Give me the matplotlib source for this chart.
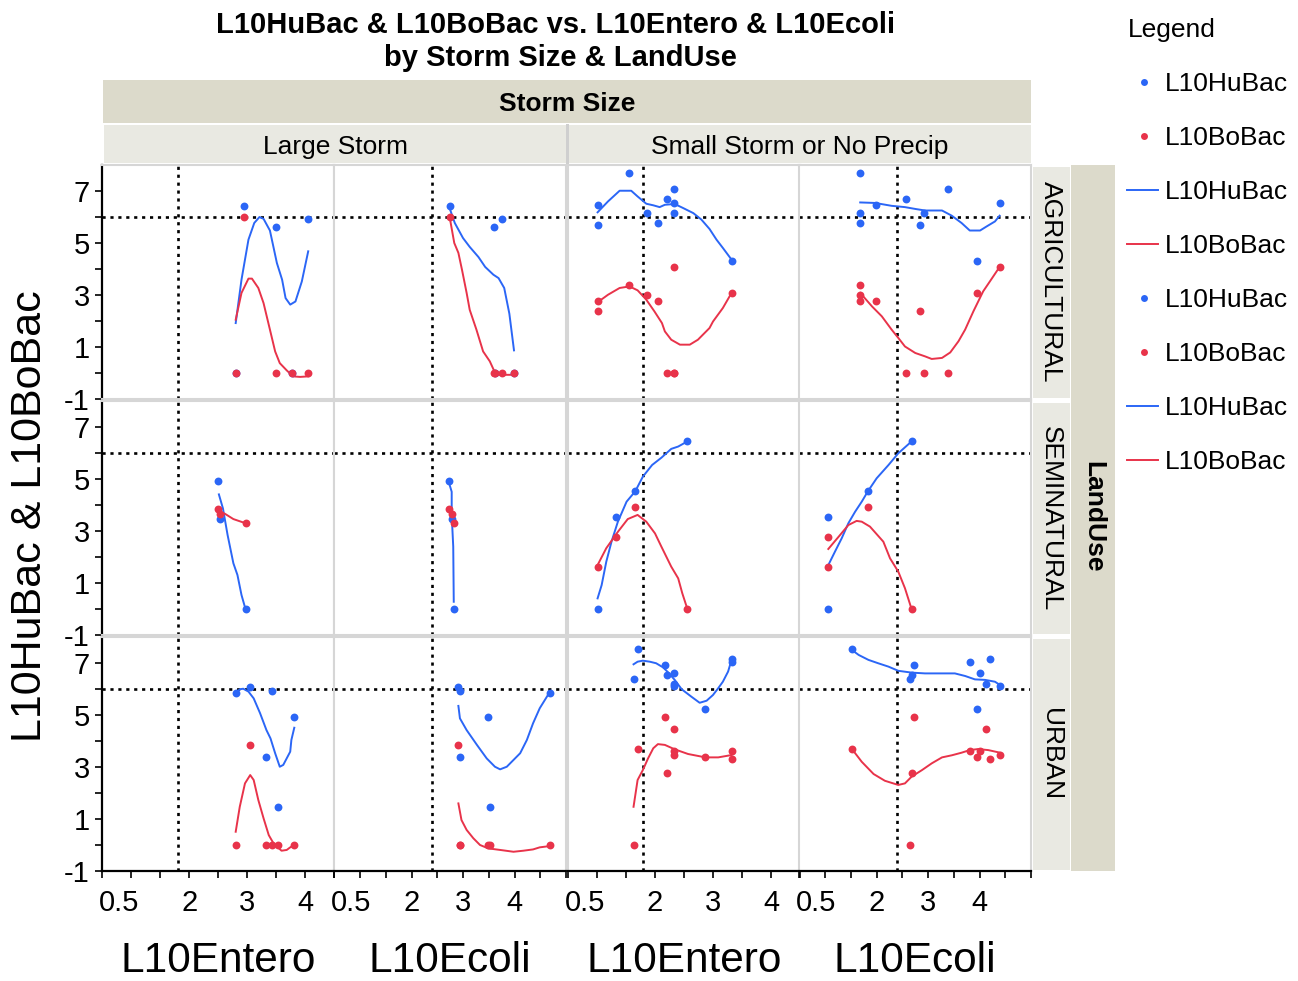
import matplotlib
matplotlib.use("Agg")
import numpy as np
import matplotlib.pyplot as plt
from matplotlib.patches import Rectangle
from matplotlib.lines import Line2D
from matplotlib.transforms import blended_transform_factory, ScaledTranslation

plt.rcParams['font.family'] = ['Liberation Sans', 'DejaVu Sans']

BLUE = '#2b66f6'
RED = '#e8334a'
BAND_DARK = '#dcdacb'
BAND_LIGHT = '#e9e9e2'
DIVIDER = '#d6d6d6'

# ---- sample values per storm size / land use ----
# Large Storm, AGRICULTURAL
lg_agr_entero = [2.80, 2.94, 3.49, 3.77, 4.05]
lg_agr_ecoli = [3.63, 2.75, 3.60, 3.99, 3.76]
lg_agr_hubac = [0.00, 6.41, 5.62, 0.00, 5.92]
lg_agr_bobac = [0.00, 6.00, 0.00, 0.00, 0.00]

# Large Storm, SEMINATURAL
lg_sem_entero = [2.49, 2.53, 2.97]
lg_sem_ecoli = [2.73, 2.78, 2.82]
lg_sem_hubac = [4.93, 3.46, 0.00]
lg_sem_bobac = [3.86, 3.65, 3.31]

# Large Storm, URBAN
lg_urb_entero = [2.80, 3.05, 3.42, 3.81, 3.32, 3.53]
lg_urb_ecoli = [4.69, 2.90, 2.94, 3.48, 2.94, 3.52]
lg_urb_hubac = [5.83, 6.09, 5.92, 4.91, 3.38, 1.47]
lg_urb_bobac = [0.00, 3.85, 0.00, 0.00, 0.00, 0.00]

# Small Storm or No Precip, AGRICULTURAL
sm_agr_entero = [1.01, 1.01, 1.56, 1.87, 2.05, 2.21, 2.32, 2.32, 2.32, 3.32]
sm_agr_ecoli = [1.98, 2.84, 1.68, 1.68, 1.68, 2.57, 3.39, 4.39, 2.92, 3.96]
sm_agr_hubac = [6.47, 5.69, 7.69, 6.15, 5.77, 6.69, 7.08, 6.54, 6.15, 4.32]
sm_agr_bobac = [2.78, 2.38, 3.38, 3.01, 2.78, 0.00, 0.00, 4.09, 0.00, 3.09]

# Small Storm or No Precip, SEMINATURAL
sm_sem_entero = [1.01, 1.32, 1.66, 2.56]
sm_sem_ecoli = [1.06, 1.06, 1.83, 2.68]
sm_sem_hubac = [0.00, 3.54, 4.54, 6.46]
sm_sem_bobac = [1.62, 2.77, 3.93, 0.00]

# Small Storm or No Precip, URBAN
sm_urb_entero = [1.70, 1.63, 2.18, 2.21, 2.32, 2.32, 2.32, 2.87, 3.32, 3.32]
sm_urb_ecoli = [1.52, 2.65, 2.73, 2.68, 4.01, 4.12, 4.40, 3.96, 4.20, 3.81]
sm_urb_hubac = [7.54, 6.37, 6.92, 6.54, 6.60, 6.19, 6.12, 5.23, 7.14, 7.05]
sm_urb_bobac = [3.69, 0.00, 4.91, 2.76, 3.60, 4.46, 3.46, 3.37, 3.30, 3.60]

# ---- smoother traces (x, y) ----
lg_agr_entero_hu_fit = [(2.80, 1.92), (2.90, 3.59), (3.02, 5.13), (3.12, 5.77), (3.21, 6.00), (3.28, 5.93),
                        (3.39, 5.48), (3.51, 4.23), (3.60, 3.59), (3.66, 2.88), (3.74, 2.63), (3.83, 2.75),
                        (3.94, 3.52), (4.05, 4.68)]
lg_agr_entero_bo_fit = [(2.80, 2.05), (2.90, 3.08), (3.02, 3.63), (3.08, 3.63), (3.19, 3.27), (3.28, 2.69),
                        (3.39, 1.67), (3.48, 0.83), (3.56, 0.38), (3.68, 0.10), (3.79, -0.13), (3.91, -0.15),
                        (4.05, -0.13)]
lg_agr_ecoli_hu_fit = [(2.75, 6.28), (2.84, 5.77), (3.00, 5.19), (3.13, 4.85), (3.30, 4.46), (3.43, 4.08),
                       (3.59, 3.78), (3.69, 3.65), (3.80, 3.27), (3.90, 2.28), (3.99, 0.87)]
lg_agr_ecoli_bo_fit = [(2.74, 6.00), (2.83, 5.00), (2.91, 4.62), (2.98, 3.97), (3.07, 3.08), (3.13, 2.43),
                       (3.26, 1.67), (3.39, 0.83), (3.52, 0.45), (3.61, 0.06), (3.71, -0.07), (3.99, -0.07)]

lg_sem_entero_hu_fit = [(2.51, 4.42), (2.58, 3.88), (2.66, 2.86), (2.76, 1.77), (2.83, 1.32), (2.90, 0.55),
                        (2.97, 0.00)]
lg_sem_entero_bo_fit = [(2.49, 3.75), (2.61, 3.68), (2.76, 3.47), (2.97, 3.31)]
lg_sem_ecoli_hu_fit = [(2.73, 4.85), (2.78, 4.52), (2.78, 3.63), (2.81, 2.41), (2.82, 0.29)]
lg_sem_ecoli_bo_fit = [(2.73, 3.86), (2.78, 3.63), (2.82, 3.31)]

lg_urb_entero_hu_fit = [(2.80, 5.83), (2.87, 5.99), (2.93, 6.01), (3.02, 5.90), (3.11, 5.64), (3.22, 5.07),
                        (3.33, 4.42), (3.40, 4.10), (3.48, 3.53), (3.56, 3.01), (3.62, 3.08), (3.74, 3.59),
                        (3.76, 4.04), (3.81, 4.51)]
lg_urb_entero_bo_fit = [(2.80, 0.51), (2.87, 1.47), (2.96, 2.37), (3.05, 2.69), (3.11, 2.50), (3.19, 1.73),
                        (3.28, 1.03), (3.37, 0.38), (3.45, 0.07), (3.59, -0.22), (3.68, -0.19), (3.74, -0.09),
                        (3.81, 0.00)]
lg_urb_ecoli_hu_fit = [(2.91, 5.35), (2.94, 4.87), (3.07, 4.42), (3.27, 3.85), (3.46, 3.33), (3.62, 3.01),
                       (3.72, 2.91), (3.85, 3.01), (3.98, 3.27), (4.11, 3.53), (4.24, 4.04), (4.36, 4.68),
                       (4.49, 5.26), (4.69, 5.90)]
lg_urb_ecoli_bo_fit = [(2.91, 1.60), (2.97, 0.96), (3.07, 0.58), (3.20, 0.26), (3.33, 0.00), (3.49, -0.13),
                       (3.72, -0.19), (3.98, -0.26), (4.17, -0.22), (4.36, -0.17), (4.49, -0.09), (4.69, -0.04)]

sm_agr_entero_hu_fit = [(1.01, 6.18), (1.19, 6.60), (1.39, 7.01), (1.59, 7.01), (1.70, 6.79), (1.85, 6.51),
                        (1.97, 6.45), (2.08, 6.38), (2.17, 6.47), (2.34, 6.50), (2.48, 6.35), (2.66, 6.15),
                        (2.80, 5.90), (2.94, 5.54), (3.06, 5.13), (3.17, 4.81), (3.32, 4.36)]
sm_agr_entero_bo_fit = [(1.01, 2.72), (1.19, 3.01), (1.39, 3.27), (1.56, 3.33), (1.70, 3.18), (1.85, 2.82),
                        (1.99, 2.37), (2.12, 1.92), (2.17, 1.60), (2.28, 1.28), (2.43, 1.09), (2.60, 1.09),
                        (2.74, 1.28), (2.94, 1.73), (3.00, 1.98), (3.17, 2.50), (3.32, 3.08)]
sm_agr_ecoli_hu_fit = [(1.68, 6.56), (1.97, 6.54), (2.29, 6.43), (2.55, 6.38), (2.75, 6.31), (2.94, 6.25),
                       (3.27, 6.25), (3.46, 6.05), (3.65, 5.77), (3.81, 5.48), (4.01, 5.48), (4.14, 5.64),
                       (4.30, 5.83), (4.39, 6.05)]
sm_agr_ecoli_bo_fit = [(1.68, 3.08), (1.91, 2.56), (2.10, 2.18), (2.29, 1.67), (2.42, 1.35), (2.55, 1.02),
                       (2.75, 0.77), (2.94, 0.64), (3.07, 0.54), (3.27, 0.58), (3.43, 0.79), (3.59, 1.22),
                       (3.72, 1.67), (3.88, 2.37), (4.07, 3.14), (4.20, 3.52), (4.39, 4.08)]

sm_sem_entero_hu_fit = [(1.01, 0.42), (1.08, 0.93), (1.16, 1.83), (1.25, 2.60), (1.36, 3.37), (1.51, 4.14),
                        (1.66, 4.54), (1.79, 5.10), (1.95, 5.55), (2.11, 5.83), (2.28, 6.17), (2.40, 6.26),
                        (2.56, 6.46)]
sm_sem_entero_bo_fit = [(1.01, 1.70), (1.16, 2.35), (1.36, 2.98), (1.53, 3.47), (1.70, 3.63), (1.85, 3.37),
                        (2.00, 2.92), (2.11, 2.41), (2.28, 1.64), (2.40, 1.19), (2.47, 0.62), (2.56, 0.00)]
sm_sem_ecoli_hu_fit = [(1.06, 1.70), (1.19, 2.22), (1.32, 2.73), (1.45, 3.31), (1.58, 3.75), (1.71, 4.14),
                       (1.83, 4.54), (2.00, 5.04), (2.23, 5.55), (2.42, 6.00), (2.68, 6.46)]
sm_sem_ecoli_bo_fit = [(1.06, 2.32), (1.26, 2.79), (1.45, 3.24), (1.61, 3.40), (1.71, 3.37), (1.87, 3.18),
                       (2.13, 2.60), (2.26, 1.96), (2.42, 1.45), (2.55, 0.81), (2.68, 0.00)]

sm_urb_entero_hu_fit = [(1.63, 6.95), (1.70, 7.05), (1.79, 7.09), (1.91, 7.05), (2.02, 6.99), (2.14, 6.83),
                        (2.23, 6.63), (2.34, 6.35), (2.46, 5.99), (2.63, 5.70), (2.77, 5.47), (2.89, 5.55),
                        (3.00, 5.77), (3.09, 6.03), (3.17, 6.28), (3.26, 6.67), (3.32, 7.12)]
sm_urb_entero_bo_fit = [(1.63, 1.47), (1.70, 2.50), (1.79, 2.88), (1.88, 3.33), (1.97, 3.72), (2.05, 3.88),
                        (2.17, 3.85), (2.34, 3.68), (2.57, 3.50), (2.87, 3.37), (3.09, 3.37), (3.32, 3.46)]
sm_urb_ecoli_hu_fit = [(1.52, 7.50), (1.65, 7.31), (1.84, 7.12), (2.03, 6.99), (2.23, 6.86), (2.42, 6.70),
                       (2.68, 6.63), (2.94, 6.60), (3.52, 6.60), (3.72, 6.50), (3.91, 6.37), (4.11, 6.35),
                       (4.30, 6.28), (4.40, 6.15)]
sm_urb_ecoli_bo_fit = [(1.52, 3.69), (1.71, 3.20), (1.94, 2.73), (2.16, 2.47), (2.42, 2.31), (2.55, 2.37),
                       (2.68, 2.63), (2.88, 2.88), (3.07, 3.14), (3.27, 3.37), (3.46, 3.45), (3.65, 3.55),
                       (3.81, 3.65), (3.97, 3.69), (4.17, 3.65), (4.40, 3.55)]

storms = ['Large Storm', 'Small Storm or No Precip']
landuses = ['AGRICULTURAL', 'SEMINATURAL', 'URBAN']
xvars = ['L10Entero', 'L10Ecoli']
xlims = {'L10Entero': (0.5, 4.5), 'L10Ecoli': (0.5, 5.0)}
ref_x = {'L10Entero': 1.8, 'L10Ecoli': 2.4}
ref_y = 6.0

# (storm index, landuse index) -> (entero, ecoli, hubac, bobac, fits per x var)
groups = {
    (0, 0): (lg_agr_entero, lg_agr_ecoli, lg_agr_hubac, lg_agr_bobac,
             [(lg_agr_entero_hu_fit, lg_agr_entero_bo_fit), (lg_agr_ecoli_hu_fit, lg_agr_ecoli_bo_fit)]),
    (0, 1): (lg_sem_entero, lg_sem_ecoli, lg_sem_hubac, lg_sem_bobac,
             [(lg_sem_entero_hu_fit, lg_sem_entero_bo_fit), (lg_sem_ecoli_hu_fit, lg_sem_ecoli_bo_fit)]),
    (0, 2): (lg_urb_entero, lg_urb_ecoli, lg_urb_hubac, lg_urb_bobac,
             [(lg_urb_entero_hu_fit, lg_urb_entero_bo_fit), (lg_urb_ecoli_hu_fit, lg_urb_ecoli_bo_fit)]),
    (1, 0): (sm_agr_entero, sm_agr_ecoli, sm_agr_hubac, sm_agr_bobac,
             [(sm_agr_entero_hu_fit, sm_agr_entero_bo_fit), (sm_agr_ecoli_hu_fit, sm_agr_ecoli_bo_fit)]),
    (1, 1): (sm_sem_entero, sm_sem_ecoli, sm_sem_hubac, sm_sem_bobac,
             [(sm_sem_entero_hu_fit, sm_sem_entero_bo_fit), (sm_sem_ecoli_hu_fit, sm_sem_ecoli_bo_fit)]),
    (1, 2): (sm_urb_entero, sm_urb_ecoli, sm_urb_hubac, sm_urb_bobac,
             [(sm_urb_entero_hu_fit, sm_urb_entero_bo_fit), (sm_urb_ecoli_hu_fit, sm_urb_ecoli_bo_fit)]),
}

W, H = 1298, 981
fig = plt.figure(figsize=(W / 100, H / 100), dpi=100)


def fx(px):
    return px / W


def fy(py):
    return 1 - py / H


def band(x0, y0, x1, y1, color):
    fig.add_artist(Rectangle((fx(x0), fy(y1)), (x1 - x0) / W, (y1 - y0) / H,
                             transform=fig.transFigure, facecolor=color, edgecolor='none', zorder=0))


# panel extents in pixels
col_px = [(102.3, 334.3), (334.3, 566.0), (568.0, 800.0), (799.5, 1031.0)]
row_px = [(165.0, 399.0), (401.3, 635.3), (637.0, 871.0)]

for (si, li), (entero, ecoli, hubac, bobac, fits) in groups.items():
    for vi, var in enumerate(xvars):
        c = si * 2 + vi
        x0, x1 = col_px[c]
        y0, y1 = row_px[li]
        ax = fig.add_axes([fx(x0), fy(y1), (x1 - x0) / W, (y1 - y0) / H])
        ax.set_xlim(*xlims[var])
        ax.set_ylim(-1, 8)
        xs = entero if var == 'L10Entero' else ecoli

        ax.axhline(ref_y, color='black', lw=1.9, ls=(0, (1.2, 1.8)), zorder=1)
        ax.axvline(ref_x[var], color='black', lw=1.9, ls=(0, (1.2, 1.8)), zorder=1)

        hu_fit, bo_fit = fits[vi]
        ax.plot(*zip(*hu_fit), color=BLUE, lw=1.4, zorder=2)
        ax.plot(*zip(*bo_fit), color=RED, lw=1.4, zorder=2)
        ax.scatter(xs, hubac, s=32, color=BLUE, linewidths=0, zorder=3)
        ax.scatter(xs, bobac, s=32, color=RED, linewidths=0, zorder=4)

        for side in ['top', 'right', 'left', 'bottom']:
            ax.spines[side].set_color(DIVIDER)
            ax.spines[side].set_linewidth(1.5)

        if c == 0:
            ax.spines['left'].set_color('black')
            ax.spines['left'].set_linewidth(1.6)
            ax.set_yticks(range(-1, 8))
            ax.set_yticklabels([str(v) if v % 2 else '' for v in range(-1, 8)])
            ax.tick_params(axis='y', length=5, width=1.2, pad=4, labelsize=21)
        else:
            ax.set_yticks([])

        if li == 2:
            ax.spines['bottom'].set_color('black')
            ax.spines['bottom'].set_linewidth(1.6)
            ticks = np.arange(0.5, xlims[var][1] + 0.01, 0.5)
            ax.set_xticks(ticks)
            ax.set_xticklabels([('%g' % t) if t in (2, 3, 4) else '' for t in ticks])
            ax.tick_params(axis='x', length=5, width=1.2, pad=8, labelsize=21)
            tr = blended_transform_factory(ax.transData, ax.transAxes) + \
                ScaledTranslation(0.17, -0.18, fig.dpi_scale_trans)
            ax.text(0.5, 0, '0.5', transform=tr, ha='center', va='top', fontsize=21)
        else:
            ax.set_xticks([])

# divider between storm sizes
band(566.0, 124, 568.5, 871, '#cfcfcf')

# header bands
band(103, 80, 1031, 123, BAND_DARK)
fig.text(fx(567), fy(104), 'Storm Size', fontsize=19, weight='bold', ha='center', va='center')
band(104, 125, 566, 163, BAND_LIGHT)
band(568.5, 125, 1031, 163, BAND_LIGHT)
fig.text(fx(335), fy(147), storms[0], fontsize=19, ha='center', va='center')
fig.text(fx(800), fy(147), storms[1], fontsize=19, ha='center', va='center')

band(1071, 165, 1115, 871, BAND_DARK)
fig.text(fx(1093), fy(517), 'LandUse', fontsize=19, weight='bold', rotation=-90, ha='center', va='center')
for li, name in enumerate(landuses):
    y0, y1 = row_px[li]
    band(1033, y0 + 2, 1070, y1 - 1, BAND_LIGHT)
    fig.text(fx(1051), fy((y0 + y1) / 2), name, fontsize=19, rotation=-90, ha='center', va='center')

# titles and axis labels
fig.text(fx(556), fy(25), 'L10HuBac & L10BoBac vs. L10Entero & L10Ecoli',
         fontsize=21, weight='bold', ha='center', va='center')
fig.text(fx(560), fy(58), 'by Storm Size & LandUse', fontsize=21, weight='bold', ha='center', va='center')
fig.text(fx(30), fy(516), 'L10HuBac & L10BoBac', fontsize=31, rotation=90, ha='center', va='center')
for c in range(4):
    x0, x1 = col_px[c]
    fig.text(fx((x0 + x1) / 2), fy(961), xvars[c % 2], fontsize=30.5, ha='center', va='center')

# legend
fig.text(fx(1128), fy(30), 'Legend', fontsize=19, ha='left', va='center')
legend_items = [('dot', BLUE, 'L10HuBac'), ('dot', RED, 'L10BoBac'),
                ('line', BLUE, 'L10HuBac'), ('line', RED, 'L10BoBac'),
                ('dot', BLUE, 'L10HuBac'), ('dot', RED, 'L10BoBac'),
                ('line', BLUE, 'L10HuBac'), ('line', RED, 'L10BoBac')]
for i, (kind, color, label) in enumerate(legend_items):
    ym = fy(82 + 54 * i)
    if kind == 'dot':
        fig.add_artist(Line2D([fx(1144)], [ym], marker='o', markersize=5, color=color,
                              markeredgewidth=0, transform=fig.transFigure))
    else:
        fig.add_artist(Line2D([fx(1127), fx(1158)], [ym, ym], color=color, lw=1.4,
                              transform=fig.transFigure))
    fig.text(fx(1165), fy(84 + 54 * i), label, fontsize=19, ha='left', va='center')

fig.savefig('out.png', dpi=100)
